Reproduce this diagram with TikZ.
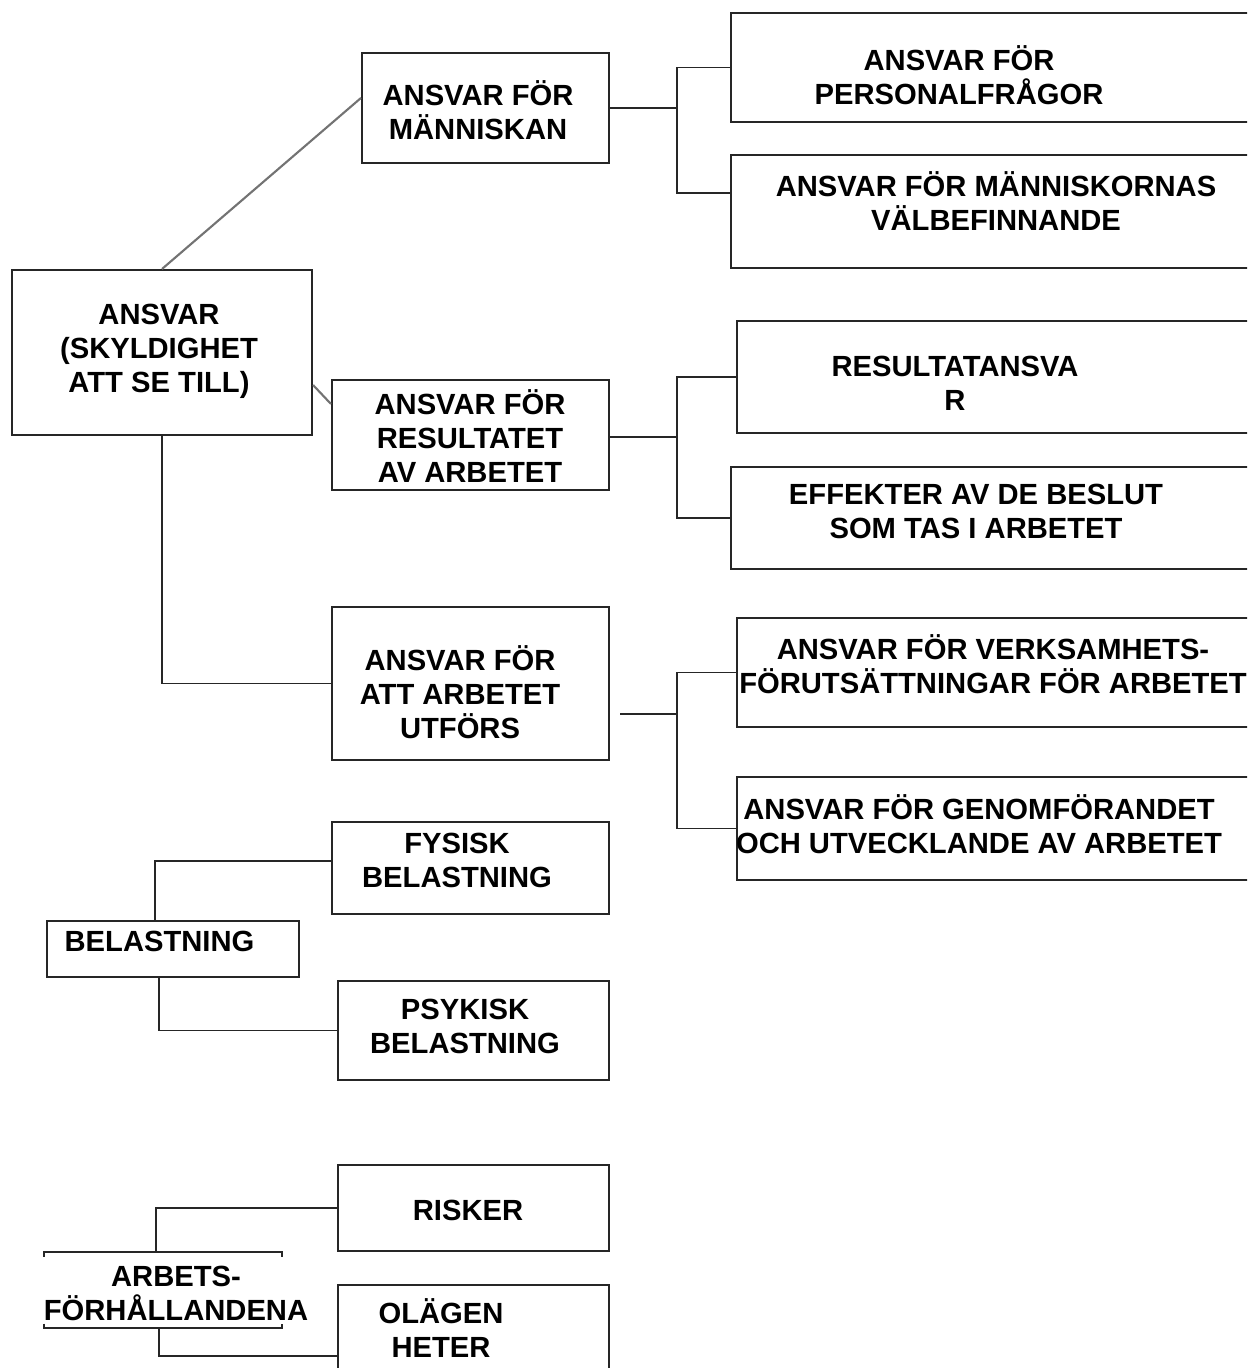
\documentclass[tikz,border=0pt]{standalone}
\usepackage{fontspec}
\setmainfont{Liberation Sans}
\begin{document}
\begin{tikzpicture}[x=0.01cm,y=-0.01cm,
  box/.style={draw=black!85, line width=0.55pt, inner sep=0pt},
  txt/.style={align=center, inner sep=0pt, font=\bfseries\fontsize{8.3}{9.65}\selectfont},
  conn/.style={draw=black!85, line width=0.55pt},
  diag/.style={draw=black!55, line width=0.6pt}]
\useasboundingbox (0,0) rectangle (1247,1368);
\clip (0,0) rectangle (1247,1368);
\node[box, minimum width=3cm, minimum height=1.65cm] (b-ansvar) at (162,352.5) {};
\node[box, minimum width=2.47cm, minimum height=1.10cm] (b-mann) at (485.5,108) {};
\node[box, minimum width=2.77cm, minimum height=1.10cm] (b-res) at (470.5,435) {};
\node[box, minimum width=2.77cm, minimum height=1.53cm] (b-utf) at (470.5,683.5) {};
\node[box, minimum width=2.77cm, minimum height=0.92cm] (b-fys) at (470.5,868) {};
\node[box, minimum width=2.52cm, minimum height=0.56cm] (b-bel) at (173,949) {};
\node[box, minimum width=2.71cm, minimum height=0.99cm] (b-psy) at (473.5,1030.5) {};
\node[box, minimum width=2.71cm, minimum height=0.86cm] (b-risk) at (473.5,1208) {};
\node[inner sep=0pt, minimum width=2.36cm, minimum height=0.74cm] (b-arb) at (163,1290) {};
\node[box, minimum width=2.71cm, minimum height=1.15cm] (b-olag) at (473.5,1342.5) {};
\node[box, minimum width=5.29cm, minimum height=1.09cm] (b-pers) at (995.5,67.5) {};
\node[box, minimum width=5.29cm, minimum height=1.13cm] (b-val) at (995.5,211.5) {};
\node[box, minimum width=5.23cm, minimum height=1.12cm] (b-resa) at (998.5,377) {};
\node[box, minimum width=5.29cm, minimum height=1.02cm] (b-eff) at (995.5,518) {};
\node[box, minimum width=5.23cm, minimum height=1.09cm] (b-verk) at (998.5,672.5) {};
\node[box, minimum width=5.23cm, minimum height=1.03cm] (b-gen) at (998.5,828.5) {};
\node[txt] (t-ansvar) at (159,351) {ANSVAR\\(SKYLDIGHET\\ATT SE TILL)};
\node[txt] (t-mann) at (478,110.5) {ANSVAR FÖR\\MÄNNISKAN};
\node[txt] (t-res) at (470,436) {ANSVAR FÖR\\RESULTATET\\AV ARBETET};
\node[txt] (t-utf) at (460,692) {ANSVAR FÖR\\ATT ARBETET\\UTFÖRS};
\node[txt] (t-fys) at (457,860) {FYSISK\\BELASTNING};
\node[txt] (t-bel) at (159.5,941) {BELASTNING};
\node[txt] (t-psy) at (465,1026.5) {PSYKISK\\BELASTNING};
\node[txt] (t-risk) at (468,1210) {RISKER};
\node[txt] (t-arb) at (176,1293) {ARBETS-\\FÖRHÅLLANDENA};
\node[txt] (t-olag) at (441,1328) {OLÄGEN\\HETER};
\node[txt] (t-pers) at (959,75.5) {ANSVAR FÖR\\PERSONALFRÅGOR};
\node[txt] (t-val) at (996,201.5) {ANSVAR FÖR MÄNNISKORNAS\\VÄLBEFINNANDE};
\node[txt] (t-resa) at (955,383) {RESULTATANSVA\\R};
\node[txt] (t-eff) at (976,511) {EFFEKTER AV DE BESLUT\\SOM TAS I ARBETET};
\node[txt] (t-verk) at (993,664) {ANSVAR FÖR VERKSAMHETS-\\FÖRUTSÄTTNINGAR FÖR ARBETET};
\node[txt] (t-gen) at (979,824) {ANSVAR FÖR GENOMFÖRANDET\\OCH UTVECKLANDE AV ARBETET};
\coordinate (j1) at (677,108);
\coordinate (j2) at (677,437);
\coordinate (j3) at (677,714);
\draw[diag] (b-ansvar.north) -- ([yshift=0.1cm]b-mann.west);
\draw[diag] ([yshift=-0.325cm]b-ansvar.east) -- ([yshift=0.31cm]b-res.west);
\draw[conn] (b-ansvar.south) |- (b-utf.west);
\draw[conn] (b-mann.east) -- (j1);
\draw[conn] (b-pers.west) -| (j1) |- ([yshift=0.185cm]b-val.west);
\draw[conn] ([yshift=-0.02cm]b-res.east) -- (j2);
\draw[conn] (b-resa.west) -| (j2) |- (b-eff.west);
\draw[conn] ([xshift=0.1cm,yshift=-0.305cm]b-utf.east) -- (j3);
\draw[conn] (b-verk.west) -| (j3) |- (b-gen.west);
\draw[conn] ([xshift=-0.18cm]b-bel.north) |- ([yshift=0.07cm]b-fys.west);
\draw[conn] ([xshift=-0.14cm]b-bel.south) |- (b-psy.west);
\draw[conn] ([yshift=-1.2pt]b-arb.north west) -- (b-arb.north west) -- (b-arb.north east) -- ([yshift=-1.2pt]b-arb.north east);
\draw[conn] ([yshift=1.2pt]b-arb.south west) -- (b-arb.south west) -- (b-arb.south east) -- ([yshift=1.2pt]b-arb.south east);
\draw[conn] ([xshift=-0.07cm]b-arb.north) |- (b-risk.west);
\draw[conn] ([xshift=-0.04cm]b-arb.south) |- ([yshift=-0.135cm]b-olag.west);
\end{tikzpicture}
\end{document}
